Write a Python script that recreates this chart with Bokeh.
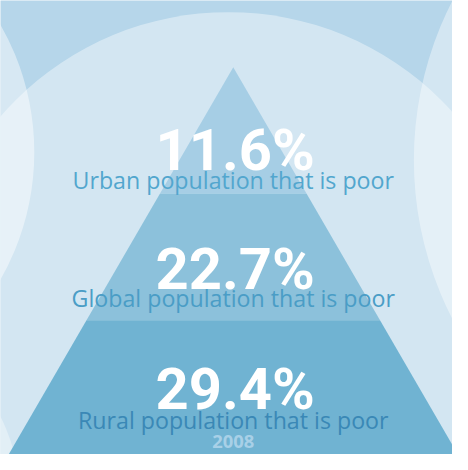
from bokeh.plotting import figure
from bokeh.models import Range1d, ColumnDataSource
from bokeh.core.properties import value
from bokeh.embed import file_html
from bokeh.resources import INLINE

# ---- data ----
shares = [11.6, 22.7, 29.4]
labels = ["Urban population that is poor",
          "Global population that is poor",
          "Rural population that is poor"]
year = "2008"

# ---- layout (reference pixel space 468 x 470, y downward) ----
W, H = 468, 470
PW, PH = 452, 454
S = PW / W

p = figure(width=PW, height=PH, output_backend="svg", toolbar_location=None,
           x_range=Range1d(0, W), y_range=Range1d(H, 0), min_border=0)
p.axis.visible = False
p.grid.visible = False
p.outline_line_color = None
p.background_fill_color = "#b6d6ea"
p.border_fill_color = "#b6d6ea"

# background circles
p.circle(x=[236], y=[324], radius=312, fill_color="white", fill_alpha=0.40, line_color=None)
p.circle(x=[-231], y=[157], radius=266, fill_color="white", fill_alpha=0.45, line_color=None)
p.circle(x=[788], y=[165], radius=360, fill_color="white", fill_alpha=0.40, line_color=None)
p.circle(x=[-180], y=[520], radius=201, fill_color="white", fill_alpha=0.35, line_color=None)

# pyramid bands
apex_x, apex_y, slope = 241, 69, 0.58
band_edges = [69, 200, 331, 480]
band_colors = ["#a6cee5", "#8cc1db", "#70b3d2"]
xs, ys = [], []
for i in range(len(shares)):
    t, b = band_edges[i], band_edges[i + 1]
    wt, wb = (t - apex_y) * slope, (b - apex_y) * slope
    xs.append([apex_x - wt, apex_x + wt, apex_x + wb, apex_x - wb])
    ys.append([t, t, b, b])
p.patches(xs=xs, ys=ys, fill_color=band_colors, line_color=None)

num_y = [155, 278, 402]
lab_y = [186, 308, 434]
lab_colors = ["#52a6ce", "#4a9dc6", "#3a88b6"]

src = ColumnDataSource(dict(x=[243] * 3, y=num_y, t=[f"{v}%" for v in shares]))
p.text(x="x", y="y", text="t", source=src, text_color="white",
       text_font=value("Roboto"), text_font_style="bold",
       text_font_size=f"{60 * S:.1f}px", text_align="center", text_baseline="alphabetic")

src2 = ColumnDataSource(dict(x=[241] * 3, y=lab_y, t=labels, c=lab_colors))
p.text(x="x", y="y", text="t", source=src2, text_color="c",
       text_font=value("Open Sans"), text_font_size=f"{24 * S:.1f}px",
       text_align="center", text_baseline="alphabetic")

p.text(x=[241], y=[457], text=[year], text_color="#a8d0e7",
       text_font=value("Open Sans"), text_font_style="bold",
       text_font_size=f"{19 * S:.1f}px", text_align="center", text_baseline="alphabetic")

open("out.html", "w").write(file_html(p, INLINE))
